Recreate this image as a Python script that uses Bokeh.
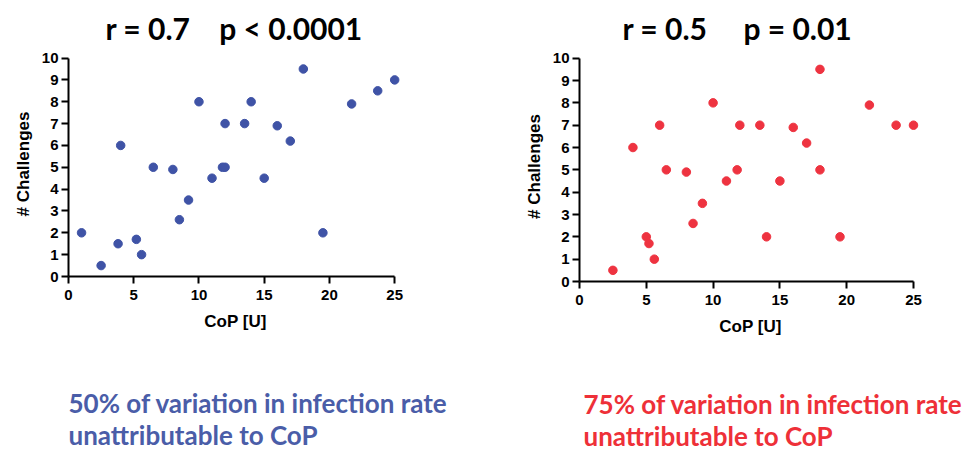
from bokeh.plotting import figure
from bokeh.models import Range1d, Title
from bokeh.layouts import row
from bokeh.embed import file_html
from bokeh.resources import INLINE

# Left panel data (blue)
cop_left = [1, 2.5, 3.8, 4, 5.2, 5.6, 6.5, 8, 8.5, 9.2, 10, 11, 11.8, 12, 12, 13.5, 14, 15, 16, 17, 18, 19.5, 21.7, 23.7, 25]
chal_left = [2, 0.5, 1.5, 6, 1.7, 1.0, 5, 4.9, 2.6, 3.5, 8, 4.5, 5, 5, 7, 7, 8, 4.5, 6.9, 6.2, 9.5, 2, 7.9, 8.5, 9]

# Right panel data (red)
cop_right = [2.5, 4, 5, 5.2, 5.6, 6, 6.5, 8, 8.5, 9.2, 10, 11, 11.8, 12, 13.5, 14, 15, 16, 17, 18, 18, 19.5, 21.7, 23.7, 25]
chal_right = [0.5, 6, 2, 1.7, 1, 7, 5, 4.9, 2.6, 3.5, 8, 4.5, 5, 7, 7, 2, 4.5, 6.9, 6.2, 9.5, 5, 2, 7.9, 7, 7]

x_ticks = [0, 5, 10, 15, 20, 25]
y_ticks = list(range(0, 11))

titles = ["r = 0.7\u00a0\u00a0\u00a0\u00a0p < 0.0001", "r = 0.5\u00a0\u00a0\u00a0\u00a0\u00a0p = 0.01"]
notes = ["50% of variation in infection rate\nunattributable to CoP",
         "75% of variation in infection rate\nunattributable to CoP"]

BLUE = "#3f53a6"
RED = "#ee3340"
BLUE_TXT = "#4a5da8"
RED_TXT = "#ee3038"
TICK_FONT = "Liberation Sans"
TXT_FONT = "Lato"


def make_panel(xs, ys, color, txt_color, fw, fh, bl, br, bt, title, note, t_off, n_off, gap):
    p = figure(frame_width=fw, frame_height=fh, min_border_left=bl, min_border_right=br,
               min_border_top=bt, min_border_bottom=0, output_backend="svg",
               toolbar_location=None, x_range=Range1d(0, 25.6), y_range=Range1d(0, 10.3))
    p.scatter(xs, ys, size=8.5, color=color, line_color=color)
    p.xgrid.visible = False
    p.ygrid.visible = False
    p.outline_line_color = None
    for ax in (p.xaxis[0], p.yaxis[0]):
        ax.axis_line_width = 2
        ax.axis_line_color = "black"
        ax.major_tick_line_width = 2
        ax.major_tick_line_color = "black"
        ax.major_tick_out = 7
        ax.major_tick_in = 0
        ax.minor_tick_line_color = None
        ax.major_label_text_font = TICK_FONT
        ax.major_label_text_font_style = "bold"
        ax.major_label_text_font_size = "15px"
        ax.major_label_text_color = "black"
        ax.axis_label_text_font = TICK_FONT
        ax.axis_label_text_font_style = "bold"
        ax.axis_label_text_font_size = "17px"
        ax.axis_label_text_color = "black"
    p.xaxis[0].major_label_standoff = 6
    p.yaxis[0].major_label_standoff = 3
    p.xaxis[0].ticker = x_ticks
    p.yaxis[0].ticker = y_ticks
    p.xaxis[0].bounds = (0, 25)
    p.yaxis[0].bounds = (0, 10)
    p.xaxis[0].axis_label = "CoP [U]"
    p.yaxis[0].axis_label = "# Challenges"
    p.xaxis[0].axis_label_standoff = 9
    p.yaxis[0].axis_label_standoff = 6

    p.add_layout(Title(text=title, align="left", offset=t_off, standoff=12,
                       text_font=TXT_FONT, text_font_style="bold", text_font_size="30px",
                       text_color="black"), "above")
    # invisible spacer between the x axis and the note
    p.add_layout(Title(text="\u00a0", align="left", standoff=gap, text_font_size="1px",
                       text_color="white"), "below")
    p.add_layout(Title(text=note, align="left", offset=n_off, standoff=0,
                       text_font=TXT_FONT, text_font_style="bold", text_font_size="26px",
                       text_color=txt_color), "below")
    return p


p1 = make_panel(cop_left, chal_left, BLUE, BLUE_TXT, 334, 225, 68, 106, 50,
                titles[0], notes[0], 37, 0, 48)
p2 = make_panel(cop_right, chal_right, RED, RED_TXT, 342, 230, 71, 52, 51,
                titles[1], notes[1], 43, 4, 44)

layout = row(p1, p2)
open("out.html", "w").write(file_html(layout, INLINE))
